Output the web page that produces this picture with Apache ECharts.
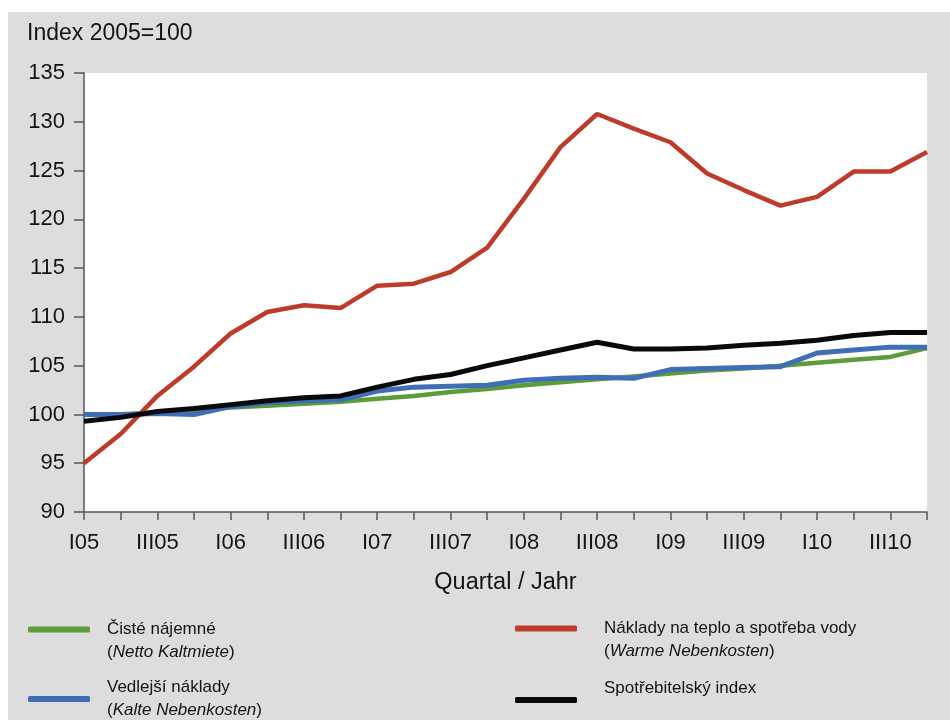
<!DOCTYPE html>
<html>
<head>
<meta charset="utf-8">
<script src="https://cdn.jsdelivr.net/npm/echarts@6/dist/echarts.min.js"></script>
<style>
html,body{margin:0;padding:0;background:#fff;}
#chart{width:950px;height:720px;}
</style>
</head>
<body>
<div id="chart"></div>
<script>
var quarters = ['I05','II05','III05','IV05','I06','II06','III06','IV06','I07','II07','III07','IV07',
                'I08','II08','III08','IV08','I09','II09','III09','IV09','I10','II10','III10','IV10'];
var yTicks = [90, 95, 100, 105, 110, 115, 120, 125, 130, 135];
var nettoKaltmiete = [100.0, 100.0, 100.2, 100.4, 100.7, 100.9, 101.1, 101.3, 101.6, 101.9, 102.3, 102.6,
                      103.0, 103.3, 103.6, 103.9, 104.2, 104.5, 104.7, 105.0, 105.3, 105.6, 105.9, 106.8];
var kalteNebenkosten = [100.0, 100.0, 100.1, 100.0, 100.8, 101.2, 101.4, 101.5, 102.4, 102.8, 102.9, 103.0,
                        103.5, 103.7, 103.8, 103.7, 104.6, 104.7, 104.8, 104.9, 106.3, 106.6, 106.9, 106.9];
var warmeNebenkosten = [95.0, 98.0, 101.9, 104.9, 108.3, 110.5, 111.2, 110.9, 113.2, 113.4, 114.6, 117.1,
                        122.1, 127.4, 130.8, 129.3, 127.9, 124.7, 123.0, 121.4, 122.3, 124.9, 124.9, 126.9];
var spotrebitelskyIndex = [99.3, 99.7, 100.3, 100.6, 101.0, 101.4, 101.7, 101.9, 102.8, 103.6, 104.1, 105.0,
                           105.8, 106.6, 107.4, 106.7, 106.7, 106.8, 107.1, 107.3, 107.6, 108.1, 108.4, 108.4];

var names = {
  green: 'Čisté nájemné (Netto Kaltmiete)',
  blue: 'Vedlejší náklady (Kalte Nebenkosten)',
  red: 'Náklady na teplo a spotřeba vody (Warme Nebenkosten)',
  black: 'Spotřebitelský index'
};
var colors = { green: '#5c9c3b', blue: '#3f6db6', red: '#bd3b2b', black: '#0a0a0a' };

var FONT = '"Liberation Sans", Arial, sans-serif';
var TXT = '#141414';
var rich = {
  s: { fontSize: 17, lineHeight: 23, fontFamily: FONT, color: TXT },
  a: { fontSize: 17, lineHeight: 23, fontFamily: FONT, color: TXT },
  i: { fontSize: 17, lineHeight: 23, fontFamily: FONT, color: TXT, fontStyle: 'italic' }
};
var legendText = {};
legendText[names.green] = '{s| }\n{a|Čisté nájemné}\n{a|(}{i|Netto Kaltmiete}{a|)}';
legendText[names.blue] = '{a|Vedlejší náklady}\n{a|(}{i|Kalte Nebenkosten}{a|)}';
legendText[names.red] = '{s| }\n{a|Náklady na teplo a spotřeba vody}\n{a|(}{i|Warme Nebenkosten}{a|)}';
legendText[names.black] = '{a|Spotřebitelský index}\n{s| }';

function mkLegend(name, left, top, gap) {
  return {
    data: [name], left: left, top: top, padding: 0, orient: 'vertical',
    itemWidth: 62, itemHeight: 6, icon: 'roundRect', selectedMode: false,
    formatter: function (n) { return legendText[n]; },
    textStyle: { rich: rich, padding: [0, 0, 0, gap], fontFamily: FONT, fontSize: 17, lineHeight: 23 }
  };
}

var chart = echarts.init(document.getElementById('chart'));
chart.setOption({
  backgroundColor: '#dddddd',
  animation: false,
  title: {
    text: 'Index 2005=100', left: 27, top: 22, padding: 0,
    textStyle: { fontFamily: FONT, fontSize: 23, fontWeight: 'normal', color: TXT }
  },
  graphic: [
    { type: 'rect', shape: { x: 0, y: 0, width: 950, height: 12 }, style: { fill: '#ffffff' }, silent: true },
    { type: 'rect', shape: { x: 0, y: 0, width: 8, height: 720 }, style: { fill: '#ffffff' }, silent: true }
  ],
  legend: [
    mkLegend(names.green, 28, 595, 12),
    mkLegend(names.blue, 28, 676, 12),
    mkLegend(names.red, 515, 594, 22),
    mkLegend(names.black, 515, 677, 22)
  ],
  grid: {
    left: 84, right: 23, top: 73, bottom: 208,
    show: true, backgroundColor: '#ffffff', borderWidth: 0,
    outerBoundsMode: 'none'
  },
  xAxis: {
    type: 'category', data: quarters, boundaryGap: false,
    name: 'Quartal / Jahr', nameLocation: 'middle', nameGap: 59,
    nameTextStyle: { fontFamily: FONT, fontSize: 23.5, color: TXT },
    axisLine: { lineStyle: { color: '#555', width: 1.5 } },
    axisTick: { show: true, interval: 0, length: 8, lineStyle: { color: '#555', width: 1.5 } },
    axisLabel: { interval: 1, margin: 20, fontFamily: FONT, fontSize: 22, color: TXT },
    splitLine: { show: false }
  },
  yAxis: {
    type: 'value', min: yTicks[0], max: yTicks[yTicks.length - 1], interval: 5,
    axisLine: { show: true, lineStyle: { color: '#555', width: 1.5 } },
    axisTick: { show: true, length: 10, lineStyle: { color: '#555', width: 1.5 } },
    axisLabel: { margin: 19, fontFamily: FONT, fontSize: 22, color: TXT },
    splitLine: { show: false }
  },
  series: [
    { name: names.red, type: 'line', data: warmeNebenkosten, symbol: 'none', color: colors.red,
      lineStyle: { width: 4.5, color: colors.red }, z: 2 },
    { name: names.green, type: 'line', data: nettoKaltmiete, symbol: 'none', color: colors.green,
      lineStyle: { width: 4.5, color: colors.green }, z: 3 },
    { name: names.blue, type: 'line', data: kalteNebenkosten, symbol: 'none', color: colors.blue,
      lineStyle: { width: 5, color: colors.blue }, z: 4 },
    { name: names.black, type: 'line', data: spotrebitelskyIndex, symbol: 'none', color: colors.black,
      lineStyle: { width: 5, color: colors.black }, z: 5 }
  ]
});
</script>
</body>
</html>
